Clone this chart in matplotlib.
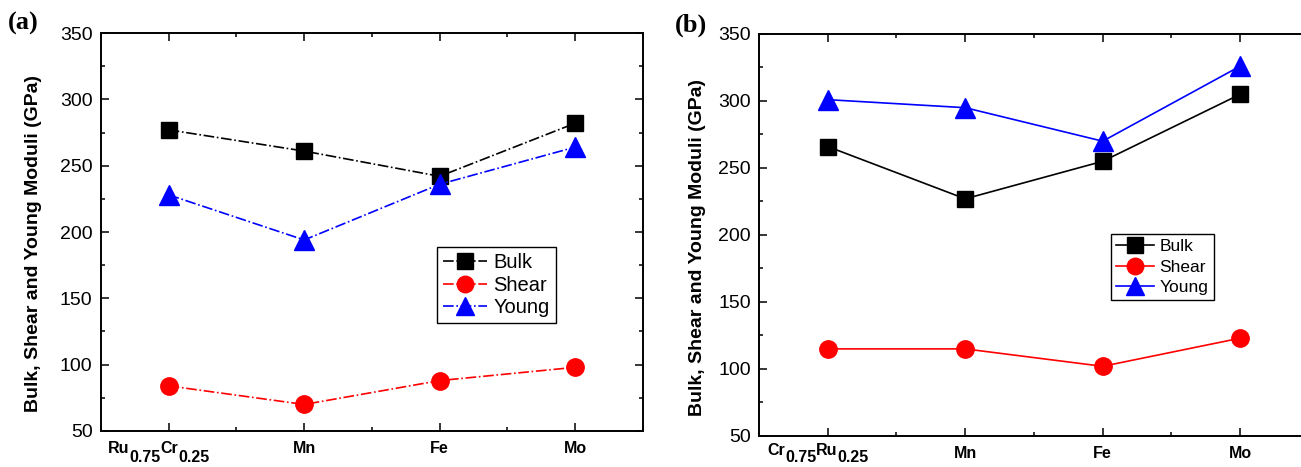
import numpy as np
import matplotlib
matplotlib.use("Agg")
import matplotlib.pyplot as plt
from matplotlib.ticker import MultipleLocator
from matplotlib.offsetbox import TextArea, HPacker, VPacker, DrawingArea, AnnotationBbox

plt.rcParams['font.family'] = ['Liberation Sans', 'DejaVu Sans']

##Data (GPa)
labels_a = ['Ru0.75Cr0.25', 'Mn', 'Fe', 'Mo']
bulk_a   = [277, 261, 242, 282]
shear_a  = [84, 70, 88, 98]
young_a  = [228, 194, 236, 264]

labels_b = ['Cr0.75Ru0.25', 'Mn', 'Fe', 'Mo']
bulk_b   = [266, 227, 255, 305]
shear_b  = [115, 115, 102, 123]
young_b  = [301, 295, 270, 326]

##Plot customization
label      = 14
tick_size  = 14
xtick_size = 11.5


def compound_label(ax, xpos, parts, size, drop, yoff):
    # element / fraction pieces, fractions dropped below the baseline
    kids = []
    for i, p in enumerate(parts):
        ta = TextArea(p, textprops=dict(fontsize=size, fontweight='bold'))
        if i % 2 == 1:
            kids.append(VPacker(children=[DrawingArea(1, drop), ta], sep=0, pad=0))
        else:
            kids.append(ta)
    box = HPacker(children=kids, align='top', sep=0, pad=0)
    ab = AnnotationBbox(box, (xpos, 0), xycoords=('data', 'axes fraction'),
                        xybox=(-7, yoff), boxcoords='offset points',
                        box_alignment=(0.5, 1), frameon=False, annotation_clip=False)
    ax.add_artist(ab)


def draw_panel(ax, xlabels, bulk, shear, young, ls, leg_anchor, leg_size, leg_space, ylab_pos, drop, yoff):
    x = np.arange(len(xlabels))
    ax.plot(x, bulk, ls, color='k', marker='s', ms=12, lw=1.2, label='Bulk')
    ax.plot(x, shear, ls, color='r', marker='o', ms=12.5, lw=1.2, label='Shear')
    ax.plot(x, young, ls, color='b', marker='^', ms=14, lw=1.2, label='Young')
    ax.set_xlim(-0.5, 3.5)
    ax.set_ylim(50, 350)
    ax.set_xticks(x)
    ax.set_xticklabels([''] + xlabels[1:], fontsize=xtick_size, fontweight='bold')
    first = xlabels[0]
    compound_label(ax, 0, [first[:2], first[2:6], first[6:8], first[8:]], xtick_size, drop, yoff)
    ax.xaxis.set_minor_locator(MultipleLocator(0.5))
    ax.yaxis.set_major_locator(MultipleLocator(50))
    ax.yaxis.set_minor_locator(MultipleLocator(25))
    ax.tick_params(axis='both', which='both', direction='in', top=True, right=True, width=1.1)
    ax.tick_params(axis='both', which='major', length=6)
    ax.tick_params(axis='both', which='minor', length=3)
    ax.tick_params(axis='y', which='major', labelsize=tick_size, pad=6)
    ax.tick_params(axis='x', which='major', pad=7)
    for sp in ax.spines.values():
        sp.set_linewidth(1.4)
    ax.set_ylabel('Bulk, Shear and Young Moduli (GPa)', fontsize=label, fontweight='bold')
    ax.yaxis.set_label_coords(*ylab_pos)
    leg = ax.legend(loc='upper left', bbox_to_anchor=leg_anchor, fontsize=leg_size, fancybox=False,
                    framealpha=1, edgecolor='k', handlelength=2.2, handletextpad=0.3,
                    borderpad=0.3, labelspacing=leg_space, borderaxespad=0, markerscale=0.95)
    leg.get_frame().set_linewidth(1.0)


fig = plt.figure(figsize=(13.01, 4.67), dpi=100)
ax_a = fig.add_axes([0.0776, 0.0771, 0.4166, 0.8522])
ax_b = fig.add_axes([0.5834, 0.0664, 0.4227, 0.8608])

draw_panel(ax_a, labels_a, bulk_a, shear_a, young_a, '-.', (0.62, 0.462), 14.5, 0.17,
           (-0.109, 0.47), 7, -7)
draw_panel(ax_b, labels_b, bulk_b, shear_b, young_b, '-', (0.64, 0.5025), 12.5, 0.3,
           (-0.096, 0.468), 5, -5)

fig.text(0.006, 0.949, '(a)', fontsize=19, fontweight='bold', family='Liberation Serif', va='center')
fig.text(0.519, 0.945, '(b)', fontsize=19, fontweight='bold', family='Liberation Serif', va='center')

fig.savefig('out.png', dpi=100)
